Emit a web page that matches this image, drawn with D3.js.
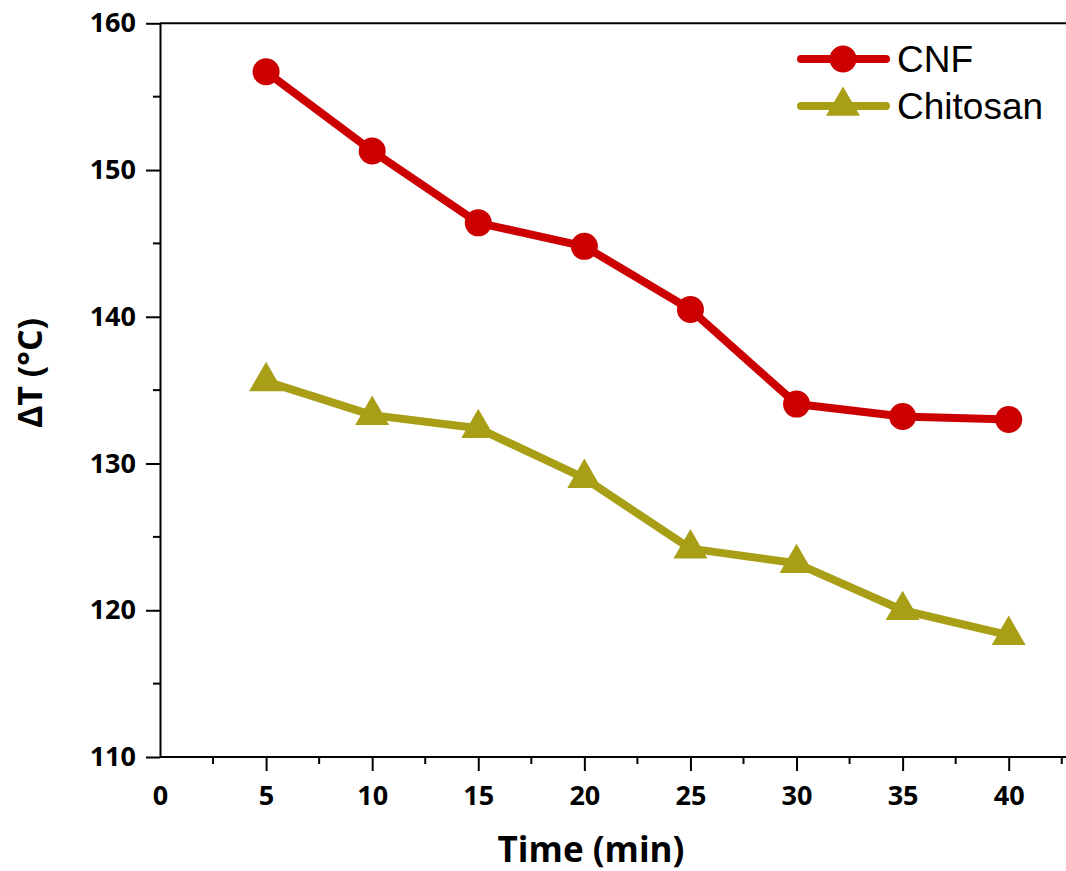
<!DOCTYPE html>
<html>
<head>
<meta charset="utf-8">
<script src="https://cdn.jsdelivr.net/npm/d3@7"></script>
<style>
  body { margin: 0; background: #fff; }
  svg { display: block; }
</style>
</head>
<body>
<script>
const times = [5, 10, 15, 20, 25, 30, 35, 40];
const cnf = [156.7, 151.3, 146.4, 144.8, 140.5, 134.05, 133.2, 133.0];
const chitosan = [135.6, 133.3, 132.4, 129.0, 124.2, 123.2, 120.0, 118.3];
const xTicks = [0, 5, 10, 15, 20, 25, 30, 35, 40];
const yTicks = [110, 120, 130, 140, 150, 160];

const W = 1066, H = 871;
const red = "#cc0000", olive = "#a89f16";

const x = d3.scaleLinear().domain([0, 42.7]).range([160, 1066]);
const y = d3.scaleLinear().domain([110, 160]).range([757, 23.3]);

const svg = d3.select("body").append("svg")
    .attr("width", W)
    .attr("height", H);

// top frame line
svg.append("line")
    .attr("x1", x(0)).attr("x2", W)
    .attr("y1", y(160)).attr("y2", y(160))
    .attr("stroke", "#000").attr("stroke-width", 2);

// minor ticks
const xMinor = d3.range(2.5, 42.6, 5);
const yMinor = d3.range(115, 160, 10);

const xAxis = svg.append("g")
    .attr("transform", `translate(0,${y(110)})`)
    .call(d3.axisBottom(x).tickValues(xTicks).tickSize(14).tickSizeOuter(0).tickPadding(8));
xAxis.select(".domain").attr("d", `M${x(0)},0H${W}`);
xAxis.selectAll(".tick").filter(d => d === 0).select("line").remove();

svg.append("g")
    .attr("transform", `translate(0,${y(110)})`)
    .selectAll("line").data(xMinor).join("line")
    .attr("x1", d => x(d)).attr("x2", d => x(d))
    .attr("y1", 0).attr("y2", 7)
    .attr("stroke", "#000").attr("stroke-width", 2);

const yAxis = svg.append("g")
    .attr("transform", `translate(${x(0)},0)`)
    .call(d3.axisLeft(y).tickValues(yTicks).tickSize(14).tickSizeOuter(0).tickPadding(10));

svg.append("g")
    .attr("transform", `translate(${x(0)},0)`)
    .selectAll("line").data(yMinor).join("line")
    .attr("x1", 0).attr("x2", -7)
    .attr("y1", d => y(d)).attr("y2", d => y(d))
    .attr("stroke", "#000").attr("stroke-width", 2);

svg.selectAll(".domain, .tick line").attr("stroke", "#000").attr("stroke-width", 2);
svg.selectAll(".tick text")
    .attr("fill", "#000")
    .style("font-family", "'Open Sans', sans-serif")
    .style("font-weight", "bold")
    .style("font-size", "27px");
xAxis.selectAll(".tick text").attr("dy", "0.95em");

// axis titles
svg.append("text")
    .attr("x", 591).attr("y", 862)
    .attr("text-anchor", "middle")
    .style("font-family", "'Open Sans', sans-serif")
    .style("font-weight", "bold")
    .style("font-size", "35px")
    .text("Time (min)");

svg.append("text")
    .attr("transform", "translate(42,373) rotate(-90)")
    .attr("text-anchor", "middle")
    .style("font-family", "'Open Sans', sans-serif")
    .style("font-weight", "bold")
    .style("font-size", "34px")
    .text("ΔT (°C)");

// series
const line = d3.line().x((d, i) => x(times[i])).y(d => y(d));
const tri = d3.symbol().type(d3.symbolTriangle).size(500);

svg.append("path").datum(chitosan)
    .attr("d", line).attr("fill", "none")
    .attr("stroke", olive).attr("stroke-width", 8).attr("stroke-linejoin", "round");
svg.append("g").selectAll("path").data(chitosan).join("path")
    .attr("d", tri)
    .attr("transform", (d, i) => `translate(${x(times[i])},${y(d)})`)
    .attr("fill", olive);

svg.append("path").datum(cnf)
    .attr("d", line).attr("fill", "none")
    .attr("stroke", red).attr("stroke-width", 8).attr("stroke-linejoin", "round");
svg.append("g").selectAll("circle").data(cnf).join("circle")
    .attr("cx", (d, i) => x(times[i])).attr("cy", d => y(d))
    .attr("r", 13.5).attr("fill", red);

// legend
const legend = svg.append("g");
const items = [
    { name: "CNF", color: red, shape: "circle", y: 59 },
    { name: "Chitosan", color: olive, shape: "triangle", y: 106 }
];
items.forEach(it => {
    legend.append("line")
        .attr("x1", 801).attr("x2", 886)
        .attr("y1", it.y).attr("y2", it.y)
        .attr("stroke", it.color).attr("stroke-width", 8).attr("stroke-linecap", "round");
    if (it.shape === "circle") {
        legend.append("circle").attr("cx", 843).attr("cy", it.y).attr("r", 13.5).attr("fill", it.color);
    } else {
        legend.append("path").attr("d", tri).attr("transform", `translate(843,${it.y})`).attr("fill", it.color);
    }
    legend.append("text")
        .attr("x", 897).attr("y", it.y + 13)
        .style("font-family", "'Liberation Sans', Arial, sans-serif")
        .style("font-size", "37px")
        .text(it.name);
});
</script>
</body>
</html>
